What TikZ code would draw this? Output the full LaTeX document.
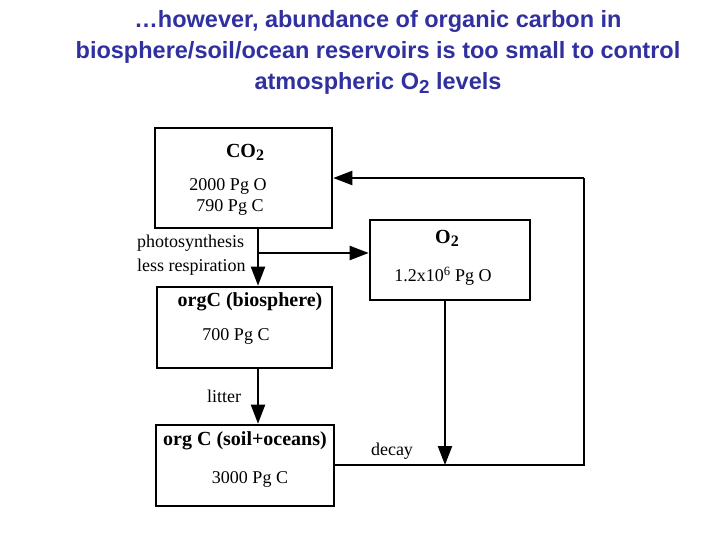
\documentclass[tikz,border=0pt]{standalone}
\usepackage{fontspec}
\setmainfont{Liberation Serif}
\newfontfamily\titlefont{Liberation Sans}
\usetikzlibrary{arrows.meta,calc}
\definecolor{titleblue}{RGB}{48,48,160}
\newcommand{\mysub}[1]{\raisebox{-0.35ex}{\scalebox{0.8}{#1}}}
\tikzset{
  box/.style={draw,line width=2.6pt,rectangle,inner sep=0pt},
  lbl/.style={inner sep=0pt,font=\fontsize{18}{20}\selectfont},
  hd/.style={inner sep=0pt,font=\fontsize{20}{22}\selectfont\bfseries},
  flow/.style={line width=2.2pt,-{Triangle[length=19pt,width=14pt]}},
  plain/.style={line width=2.2pt},
  ttl/.style={inner sep=0pt,text=titleblue,font=\titlefont\fontsize{23.5}{31}\selectfont\bfseries,align=center}
}
\begin{document}
\begin{tikzpicture}[x=1pt,y=-1pt]
\useasboundingbox (0,0) rectangle (720,540);
\node[ttl] (title) at (378,52) {\ldots however, abundance of organic carbon in\\biosphere/soil/ocean reservoirs is too small to control\\atmospheric O\mysub{2} levels};
% boxes
\node[box,minimum width=177pt,minimum height=100pt] (co2) at (243.5,178) {};
\node[box,minimum width=160pt,minimum height=80pt] (o2) at (450,260) {};
\node[box,minimum width=175pt,minimum height=81pt] (bio) at (244.5,327.5) {};
\node[box,minimum width=178pt,minimum height=81pt] (soil) at (245,465.5) {};
% box texts
\node[hd] (co2t) at (245,152) {CO\mysub{2}};
\node[lbl] (co2a) at (228,186) {2000 Pg O};
\node[lbl] (co2b) at (230,207) {790 Pg C};
\node[hd] (o2t) at (447,238) {O\mysub{2}};
\node[lbl] (o2a) at (443,276) {1.2x10\textsuperscript{6} Pg O};
\node[hd] (biot) at (250,302) {orgC (biosphere)};
\node[lbl] (bioa) at (236,336) {700 Pg C};
\node[hd] (soilt) at (245,441) {org C (soil+oceans)};
\node[lbl] (soila) at (250,479) {3000 Pg C};
% labels
\node[lbl,anchor=west] (ps) at (137,243) {photosynthesis};
\node[lbl,anchor=west] (lr) at (137,267) {less respiration};
\node[lbl] (lit) at (224,396) {litter};
\node[lbl] (dec) at (392,451) {decay};
% connectors
\coordinate (j) at (258,253);
\coordinate (r) at (584,465);
\coordinate (rt) at (584,178);
\coordinate (d) at (445,465);
\draw[plain] (co2.south -| j) -- (j);
\draw[flow] (j) -- (bio.north -| j);
\draw[flow] (j) -- (o2.west |- j);
\draw[flow] (bio.south -| j) -- (soil.north -| j);
\draw[plain] (soil.east |- r) -- (r) -- (rt);
\draw[flow] (rt) -- (co2.east |- rt);
\draw[flow] (o2.south -| d) -- (d);
\end{tikzpicture}
\end{document}
